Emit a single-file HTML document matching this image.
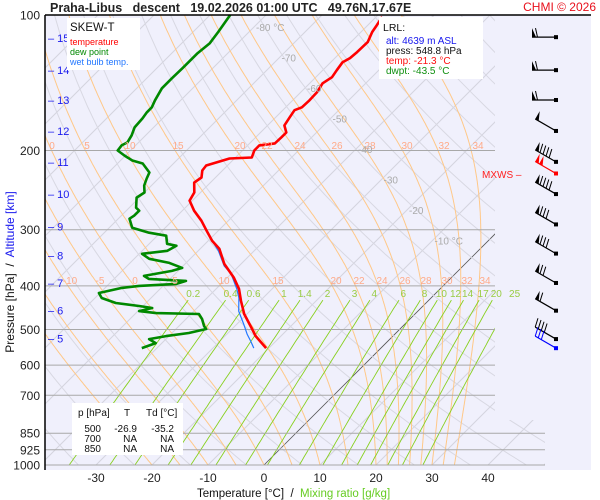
<!DOCTYPE html>
<html><head><meta charset="utf-8">
<style>
html,body{margin:0;padding:0;background:#fff;}
svg{display:block;font-family:"Liberation Sans",Arial,sans-serif;}
text{white-space:pre;}
</style></head>
<body>
<svg id="chart" width="600" height="500" viewBox="0 0 600 500" xmlns="http://www.w3.org/2000/svg" xml:space="preserve">
<defs>
<clipPath id="plotclip"><polygon points="45,15 495,15 495,420 545,420 545,465 45,465"/></clipPath>
</defs>
<rect x="45" y="15" width="546" height="455" fill="#f0f0fc"/>
<g id="bg" clip-path="url(#plotclip)"></g>
<g id="grid"></g>
<g id="series"></g>
<g id="barbs"></g>
<g id="labels"></g>
<line x1="45" y1="15" x2="45" y2="470" stroke="#000" stroke-width="1.5"/>
<line x1="45" y1="15" x2="591" y2="15" stroke="#000" stroke-width="1.5"/>
<text x="50" y="12" font-size="12.5" font-weight="bold" fill="#222">Praha-Libus   descent   19.02.2026 01:00 UTC   49.76N,17.67E</text>
<text x="596" y="11" font-size="12" fill="#e8101c" text-anchor="end">CHMI © 2026</text>
<g>
<rect x="67" y="18" width="73" height="52" fill="#fff"/>
<text x="70" y="31" font-size="11.5" fill="#111">SKEW-T</text>
<text x="70" y="45" font-size="9" fill="#ff0000">temperature</text>
<text x="70" y="55" font-size="9" fill="#008800">dew point</text>
<text x="70" y="65" font-size="9" fill="#2277ff">wet bulb temp.</text>
</g>
<g>
<rect x="379" y="17" width="104" height="62" fill="#fff"/>
<text x="383" y="31" font-size="10.5" fill="#111">LRL:</text>
<text x="386" y="44" font-size="10" fill="#1515ee">alt: 4639 m ASL</text>
<text x="386" y="54" font-size="10" fill="#111">press: 548.8 hPa</text>
<text x="386" y="64" font-size="10" fill="#ff1010">temp: -21.3 °C</text>
<text x="386" y="74" font-size="10" fill="#109010">dwpt: -43.5 °C</text>
</g>
<g font-size="10" fill="#111">
<rect x="72" y="403" width="111" height="52" fill="#fff"/>
<text x="78" y="416">p [hPa]</text><text x="124" y="416">T</text><text x="146" y="416">Td [°C]</text>
<text x="101" y="432" text-anchor="end">500</text><text x="137" y="432" text-anchor="end">-26.9</text><text x="174" y="432" text-anchor="end">-35.2</text>
<text x="101" y="442" text-anchor="end">700</text><text x="137" y="442" text-anchor="end">NA</text><text x="174" y="442" text-anchor="end">NA</text>
<text x="101" y="452" text-anchor="end">850</text><text x="137" y="452" text-anchor="end">NA</text><text x="174" y="452" text-anchor="end">NA</text>
</g>
<text transform="translate(14,272) rotate(-90)" font-size="12" text-anchor="middle"><tspan fill="#111">Pressure [hPa]  /  </tspan><tspan fill="#1a1aee">Altitude [km]</tspan></text>
<text x="197" y="497" font-size="11.5"><tspan fill="#111">Temperature [°C]  /  </tspan><tspan fill="#66cc22">Mixing ratio [g/kg]</tspan></text>
<text x="482" y="178" font-size="10" fill="#ff2020">MXWS –</text>
</svg>
<script>
// ---- data ----
const pLevels = [100,200,300,400,500,600,700,850,925,1000];
const tTicks = [-30,-20,-10,0,10,20,30,40];
const altKm = [15,14,13,12,11,10,9,8,7,6,5];
const altP = [112.5,132.6,154.5,181,212,250,295,342,394,454,524];
const tempP = [101,105.3,109.1,114.9,120.9,124.7,127.3,132.7,137.5,141.8,148.4,154.7,160.4,162.8,168.8,175.9,182.4,187.1,192.9,194.9,200,207.3,208.4,216,221.6,229.7,235.7,248,258.5,272.2,286.5,301.5,317.5,330.7,357.3,383.8,406.2,432,461.7,498.7,517,549.7];
const tempT = [-58.9,-58.4,-58.0,-57.0,-57.1,-57.3,-57.9,-57.5,-57.1,-57.7,-57.1,-57.0,-57.1,-57.9,-57.5,-57.0,-55.4,-55.4,-55.5,-57.9,-57.9,-57.1,-60.9,-63.8,-63.6,-62.5,-62.9,-61.1,-60.5,-57.9,-54.8,-52.1,-49.3,-46.6,-43.0,-38.8,-35.9,-33.4,-30.5,-26.4,-24.5,-20.5];
const dewP = [100,109.1,115.5,121.5,131.3,138.2,145.5,154.7,160.4,164.5,169.7,177.7,185.2,191.9,194.9,200,205.2,210.5,213.8,223.9,230.9,239.3,248,254.6,268.0,272.2,279.3,283.6,297.0,304.6,309.4,322.4,325.7,334.2,339.4,348.2,355.5,364.7,370.4,380.0,385.9,389.9,395.9,400,404.1,414.7,425.5,436.5,443.3,447.9,454.9,459.6,461.7,474.0,491.3,498.7,509.0,517,525.1,536.0,549.7];
const dewT = [-86.4,-85.5,-85.0,-85.4,-85.4,-85.5,-85.5,-84.6,-83.9,-83.9,-83.6,-83.4,-82.5,-82.0,-82.5,-82.3,-80.2,-77.9,-75.5,-72.7,-72.1,-71.3,-70.0,-70.5,-68.8,-67.7,-67.7,-68.0,-65.9,-62.0,-58.4,-56.8,-54.8,-55.5,-59.5,-57.3,-53.0,-49.8,-51.1,-55.2,-53.8,-46.8,-48.0,-54.3,-57.0,-60.2,-58.8,-55.4,-50.7,-48.0,-49.8,-46.4,-38.6,-37.1,-35.5,-34.6,-37.0,-40.5,-43.0,-41.1,-42.7];
const wetP = [101,105.3,109.1,114.9,120.9,124.7,127.3,132.7,137.5,141.8,148.4,154.7,160.4,162.8,168.8,175.9,182.4,187.1,192.9,194.9,200,207.3,208.4,216,221.6,229.7,235.7,248,258.5,272.2,286.5,301.5,317.5,334.2,360.9,376.1,406.2,425.5,454.9,486.2,511.7,530.4,549.7];
const wetT = [-58.9,-58.4,-58.0,-57.0,-57.1,-57.3,-57.9,-57.5,-57.1,-57.7,-57.1,-57.0,-57.1,-57.9,-57.5,-57.0,-55.4,-55.4,-55.5,-57.9,-57.9,-57.1,-60.9,-63.8,-63.6,-62.5,-62.9,-61.1,-60.5,-57.9,-54.8,-52.1,-49.3,-46.4,-42.7,-40.0,-36.3,-34.3,-32.0,-28.8,-26.4,-24.5,-22.7];
const windP = [112,132.6,154.5,181,212,225,250,292,339,394,454,525];
const windDir = [270,270,270,300,300,300,300,300,300,300,300,300];
const windSpd = [60,60,60,50,90,100,90,80,80,70,60,40];
const wetWindP = [550];
const wetWindDir = [300];
const wetWindSpd = [30];
const mixW = [0.2,0.4,0.6,1,1.4,2,3,4,6,8,10,12,14,17,20,25];
const thetaW = [-20,-15,-10,-5,0,5,10,15,20,22,24,26,28,30,32,34];
const isoLabels = [-80,-70,-60,-50,-40,-30,-20,-10];

// ---- scales ----
const NS='http://www.w3.org/2000/svg';
const K=450;
function Y(p){return 15+K*Math.log10(p/100);}
function X(T,p){return 264+5.6*T+(465-Y(p));}
function mk(tag,parent,attrs){const e=document.createElementNS(NS,tag);for(const k in attrs)e.setAttribute(k,attrs[k]);parent.appendChild(e);return e;}
const bg=document.getElementById('bg'),grid=document.getElementById('grid'),ser=document.getElementById('series'),bar=document.getElementById('barbs'),lab=document.getElementById('labels');

// isotherms
for(let T=-170;T<=50;T+=10){
  const l=mk('line',bg,{x1:X(T,1000),y1:Y(1000),x2:X(T,100),y2:Y(100),stroke:T===0?'#555':'#d4d4de','stroke-width':T===0?0.8:1});
  
  
}
// dry adiabats
for(let th=220;th<=520;th+=10){
  let d='';
  for(let p=1000;p>=100;p-=10){const T=th*Math.pow(p/1000,0.2857)-273.15;d+=(d?'L':'M')+X(T,p).toFixed(1)+','+Y(p).toFixed(1);}
  const e=mk('path',bg,{d:d,fill:'none',stroke:'#d8d8e2','stroke-width':1});
  
  
}
// moist adiabats
function es(Tk){return 6.112*Math.exp(17.67*(Tk-273.15)/(Tk-29.65));}
for(const tw of thetaW){
  let Tk=tw+273.15,d='M'+X(tw,1000).toFixed(1)+','+Y(1000).toFixed(1);
  for(let p=1000;p>100;p-=2){
    const e=es(Tk),rs=0.622*e/(p-e);
    const dTdp=(287*Tk+2.5e6*rs)/(p*(1005+2.5e6*2.5e6*rs*0.622/(287*Tk*Tk)));
    Tk-=dTdp*2;
    d+='L'+X(Tk-273.15,p-2).toFixed(1)+','+Y(p-2).toFixed(1);
  }
  const m=mk('path',bg,{d:d,fill:'none',stroke:'#ffc888','stroke-width':1});
  
  
}
// mixing ratio lines
for(const w of mixW){
  let d='';
  for(let p=1000;p>=430;p-=10){const e=w*p/(622+w),lr=Math.log(e/6.112),T=243.5*lr/(17.67-lr);d+=(d?'L':'M')+X(T,p).toFixed(1)+','+Y(p).toFixed(1);}
  const m=mk('path',bg,{d:d,fill:'none',stroke:'#88d020','stroke-width':0.9});
  
  
  const p=415,e=w*p/(622+w),lr=Math.log(e/6.112),T=243.5*lr/(17.67-lr);
  const t=mk('text',lab,{x:X(T,p).toFixed(1),y:297,'font-size':10,fill:'#99cc44','text-anchor':'middle'});
  t.textContent=String(w);
  
  
}
// moist adiabat labels (decorative placement)
const maLab200=[['0',52],['5',87],['10',130],['15',178],['20',240],['22',267],['24',300],['26',337],['28',370],['30',407],['32',444],['34',478]];
const maLab400=[['-10',70],['-5',100],['0',135],['5',175],['10',224],['15',278],['20',336],['22',359],['24',382],['26',405],['28',426],['30',447],['32',467],['34',485]];
for(const [s,x] of maLab200){const t=mk('text',lab,{x:x,y:149,'font-size':10,fill:'#ffaa88','text-anchor':'middle'});t.textContent=s;}
for(const [s,x] of maLab400){const t=mk('text',lab,{x:x,y:284,'font-size':10,fill:'#ffaa88','text-anchor':'middle'});t.textContent=s;}
// isotherm labels
isoLabels.forEach((T,i)=>{
  const p=100*Math.pow(10,(27+i*30.5-15)/K);
  const t=mk('text',lab,{x:(X(T,p)+2).toFixed(1),y:(Y(p)+4).toFixed(1),'font-size':10,fill:'#aaaaaa'});
  t.textContent=(i===0||i===isoLabels.length-1)?T+' °C':String(T);
  
  
});
// pressure lines & labels
for(const p of pLevels){
  const y=Y(p);
  if(p>100){const l=mk('line',grid,{x1:45,y1:y,x2:p>=850?545:495,y2:y,stroke:'#a8a8a8','stroke-width':1});
  
  }
  const t=mk('text',lab,{x:40,y:(y+4.5).toFixed(1),'font-size':12,fill:'#222','text-anchor':'end'});
  t.textContent=String(p);
  
  
}
// altitude labels
altKm.forEach((h,i)=>{
  const y=Y(altP[i]);
  const t=mk('text',lab,{x:48,y:(y+4).toFixed(1),'font-size':11,fill:'#1a1aee'});
  t.textContent='– '+h;
  
  
});
// temperature ticks
for(const T of tTicks){
  const t=mk('text',lab,{x:X(T,1000),y:482,'font-size':12,fill:'#222','text-anchor':'middle'});
  t.textContent=String(T);
  
  
}
// series
function line(P,T,color,w,name){
  let d='';P.forEach((p,i)=>{d+=(i?'L':'M')+X(T[i],p).toFixed(1)+','+Y(p).toFixed(1);});
  const e=mk('path',ser,{d:d,fill:'none',stroke:color,'stroke-width':w,'stroke-linejoin':'round'});
  
  
}
line(wetP,wetT,'#2277ff',1.2,'wet-bulb-line');
line(tempP,tempT,'#ff0000',2.6,'temperature-line');
line(dewP,dewT,'#008800',2.6,'dew-point-line');
// wind barbs
function barb(p,dir,spd,color){
  const sx=556,sy=Y(p),r=dir*Math.PI/180,ux=Math.sin(r),uy=-Math.cos(r),px=-uy,py=ux,L=24;
  const g=mk('g',bar,{});
  
  
  mk('line',g,{x1:sx,y1:sy,x2:sx+ux*L,y2:sy+uy*L,stroke:color,'stroke-width':1.2});
  mk('rect',g,{x:sx-2,y:sy-2,width:4,height:4,fill:color});
  let s=spd,pos=L;
  while(s>=50){const a=[sx+ux*pos,sy+uy*pos],b=[sx+ux*(pos-4),sy+uy*(pos-4)],c=[a[0]+px*9,a[1]+py*9];
    mk('polygon',g,{points:a.join(',')+' '+b.join(',')+' '+c.join(','),fill:color});s-=50;pos-=4.5;}
  if(spd>=50)pos-=1;
  while(s>=10){const a=[sx+ux*pos,sy+uy*pos];mk('line',g,{x1:a[0],y1:a[1],x2:a[0]+px*9+ux*2,y2:a[1]+py*9+uy*2,stroke:color,'stroke-width':1});s-=10;pos-=3.5;}
  if(s>=5){const a=[sx+ux*pos,sy+uy*pos];mk('line',g,{x1:a[0],y1:a[1],x2:a[0]+px*5,y2:a[1]+py*5,stroke:color,'stroke-width':1});}
}
const maxI=windSpd.indexOf(Math.max(...windSpd));
windP.forEach((p,i)=>barb(p,windDir[i],windSpd[i],i===maxI?'#ff0000':'#000'));
wetWindP.forEach((p,i)=>barb(p,wetWindDir[i],wetWindSpd[i],'#0000ff'));
</script>
</body></html>
